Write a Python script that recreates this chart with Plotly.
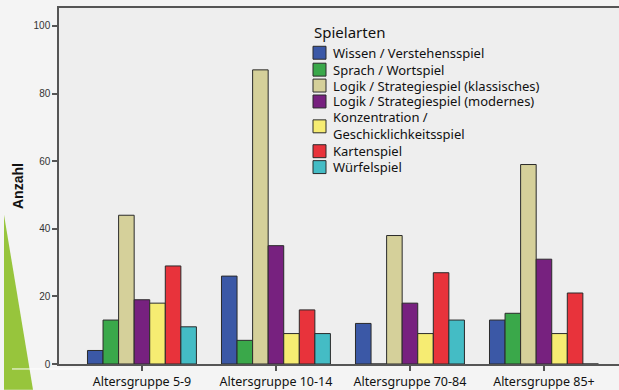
import plotly.graph_objects as go

categories = ["Altersgruppe 5-9", "Altersgruppe 10-14", "Altersgruppe 70-84", "Altersgruppe 85+"]
series_names = [
    "Wissen / Verstehensspiel",
    "Sprach / Wortspiel",
    "Logik / Strategiespiel (klassisches)",
    "Logik / Strategiespiel (modernes)",
    "Konzentration /<br>Geschicklichkeitsspiel",
    "Kartenspiel",
    "Würfelspiel",
]
wissen = [4, 26, 12, 13]
sprach = [13, 7, 0, 15]
logik_klassisch = [44, 87, 38, 59]
logik_modern = [19, 35, 18, 31]
konzentration = [18, 9, 9, 9]
karten = [29, 16, 27, 21]
wuerfel = [11, 9, 13, 0]
y_ticks = [0, 20, 40, 60, 80, 100]

series_values = [wissen, sprach, logik_klassisch, logik_modern, konzentration, karten, wuerfel]
colors = ["#3b58a6", "#3aa84a", "#d5d09a", "#77217f", "#f6ec72", "#e8333b", "#44bcc5"]

W, H = 619, 390
ML, MR, MT, MB = 59, 0, 8, 24
PW, PH = W - ML - MR, H - MT - MB


def px2paper(x, y):
    return (x - ML) / PW, (H - MB - y) / PH


fig = go.Figure()
for name, vals, col in zip(series_names, series_values, colors):
    fig.add_trace(go.Bar(
        x=categories, y=vals, name=name.replace("<br>", " "), showlegend=False,
        marker=dict(color=col, line=dict(color="#2a2a2a", width=1)),
    ))

shapes = []
annotations = []

# custom legend
legend_x = 313
text_x = 332
tx, ty = px2paper(legend_x - 1, 32)
annotations.append(dict(x=tx, y=ty, xref="paper", yref="paper", text="Spielarten",
                        showarrow=False, xanchor="left", yanchor="middle",
                        font=dict(family="Noto Sans", size=15, color="#111")))
swatch_rows = [53, 70, 86, 102, 127, 152, 168]
text_rows = [[53], [70], [86], [102], [118, 135], [152], [168]]
for name, col, yc, tys in zip(series_names, colors, swatch_rows, text_rows):
    x0, y0 = px2paper(legend_x, yc + 6.5)
    x1, y1 = px2paper(legend_x + 13, yc - 6.5)
    shapes.append(dict(type="rect", xref="paper", yref="paper", x0=x0, y0=y0, x1=x1, y1=y1,
                       fillcolor=col, line=dict(color="#2a2a2a", width=1), layer="above"))
    for line_text, yt in zip(name.split("<br>"), tys):
        ax, ay = px2paper(text_x, yt)
        annotations.append(dict(x=ax, y=ay, xref="paper", yref="paper", text=line_text,
                                showarrow=False, xanchor="left", yanchor="middle", align="left",
                                borderpad=0,
                                font=dict(family="Noto Sans", size=13, color="#111")))

# y-axis title
ax, ay = px2paper(18, 187)
annotations.append(dict(x=ax, y=ay, xref="paper", yref="paper", text="<b>Anzahl</b>",
                        showarrow=False, textangle=-90, xanchor="center", yanchor="middle",
                        font=dict(family="Liberation Sans", size=14, color="#111")))

# decorative green triangle on the slide background
p1 = px2paper(4, 216)
p2 = px2paper(4, 392)
p3 = px2paper(33, 392)
shapes.append(dict(type="path", xref="paper", yref="paper",
                   path=f"M {p1[0]} {p1[1]} L {p2[0]} {p2[1]} L {p3[0]} {p3[1]} Z",
                   fillcolor="#97c53c", line=dict(width=0), layer="below"))
l1 = px2paper(12, 371)
l2 = px2paper(80, 371)
shapes.append(dict(type="line", xref="paper", yref="paper", x0=l1[0], y0=l1[1], x1=l2[0], y1=l2[1],
                   line=dict(color="#ffffff", width=1), layer="below"))

fig.update_layout(
    width=W, height=H,
    margin=dict(l=ML, r=MR, t=MT, b=MB, pad=0),
    paper_bgcolor="#f4f4f4",
    plot_bgcolor="#eeeeee",
    barmode="group",
    bargap=0.187,
    bargroupgap=0,
    shapes=shapes,
    annotations=annotations,
    xaxis=dict(
        range=[-0.619, 3.56],
        showline=True, linecolor="#555", linewidth=1.5, mirror=True,
        ticks="outside", ticklen=5, tickcolor="#555", tickwidth=1.5,
        showgrid=False, zeroline=False,
        tickfont=dict(family="Noto Sans", size=12.5, color="#111"),
    ),
    yaxis=dict(
        range=[0, 105.3],
        tickvals=y_ticks,
        showline=True, linecolor="#555", linewidth=1.5,
        ticks="outside", ticklen=5, tickcolor="#555", tickwidth=1.5,
        showgrid=False, zeroline=False,
        tickfont=dict(family="Liberation Sans", size=10, color="#333"),
    ),
)

fig.write_html("out.html", config={"displayModeBar": False},
               post_script="document.body.style.margin='0';document.body.style.overflow='hidden';")
